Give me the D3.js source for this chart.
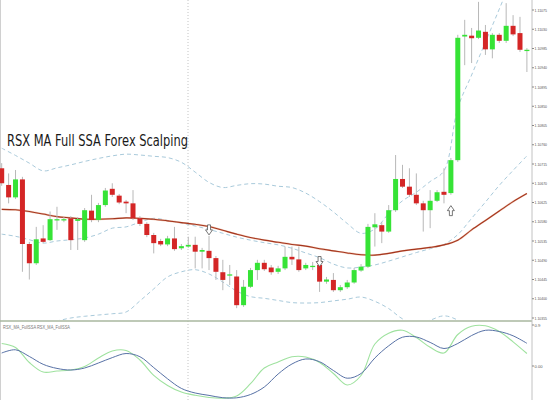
<!DOCTYPE html>
<html><head><meta charset="utf-8">
<script src="https://cdn.jsdelivr.net/npm/d3@7"></script>
<style>html,body{margin:0;padding:0;background:#fff;overflow:hidden}</style>
</head><body><svg id="c" width="550" height="400"></svg>
<script>
const titleText = "RSX MA Full SSA Forex Scalping";
const indicatorName = "RSX_MA_FullSSA RSX_MA_FullSSA";

const open = [1.10705,1.10666,1.10637,1.10679,1.10528,1.10483,1.10541,1.10537,1.10583,1.10583,1.10588,1.10582,1.10537,1.10606,1.10584,1.10619,1.10657,1.10641,1.10627,1.10623,1.10588,1.10575,1.10549,1.10535,1.10527,1.10541,1.10518,1.10522,1.10526,1.10510,1.10512,1.10495,1.10462,1.10454,1.10452,1.10385,1.10428,1.10467,1.10484,1.10473,1.10463,1.10471,1.10498,1.10492,1.10471,1.10474,1.10479,1.10440,1.10444,1.10420,1.10427,1.10438,1.10466,1.10475,1.10567,1.10572,1.10557,1.10607,1.10680,1.10662,1.10643,1.10623,1.10607,1.10629,1.10650,1.10647,1.10724,1.11013,1.11015,1.11010,1.11024,1.10983,1.11017,1.11003,1.11038,1.11021,1.10979];
const high = [1.10717,1.10693,1.10701,1.10685,1.10533,1.10568,1.10572,1.10604,1.10615,1.10591,1.10593,1.10591,1.10612,1.10643,1.10624,1.10659,1.10670,1.10645,1.10631,1.10654,1.10593,1.10579,1.10554,1.10540,1.10547,1.10568,1.10528,1.10545,1.10545,1.10519,1.10547,1.10500,1.10491,1.10479,1.10467,1.10444,1.10472,1.10491,1.10491,1.10479,1.10477,1.10522,1.10522,1.10522,1.10484,1.10486,1.10484,1.10451,1.10460,1.10432,1.10444,1.10472,1.10481,1.10575,1.10600,1.10579,1.10619,1.10736,1.10713,1.10705,1.10693,1.10629,1.10654,1.10654,1.10705,1.10729,1.11017,1.11052,1.11033,1.11094,1.11040,1.11021,1.11021,1.11091,1.11063,1.11059,1.10986];
const low = [1.10664,1.10623,1.10633,1.10463,1.10445,1.10479,1.10530,1.10535,1.10561,1.10579,1.10514,1.10514,1.10533,1.10579,1.10579,1.10615,1.10638,1.10621,1.10600,1.10584,1.10570,1.10544,1.10506,1.10523,1.10523,1.10512,1.10514,1.10519,1.10471,1.10471,1.10467,1.10444,1.10420,1.10432,1.10378,1.10381,1.10425,1.10444,1.10465,1.10456,1.10458,1.10467,1.10479,1.10463,1.10467,1.10467,1.10416,1.10435,1.10416,1.10416,1.10423,1.10435,1.10463,1.10472,1.10522,1.10530,1.10554,1.10603,1.10659,1.10638,1.10619,1.10557,1.10565,1.10626,1.10623,1.10643,1.10720,1.10946,1.10951,1.11007,1.10970,1.10962,1.10998,1.10998,1.11014,1.10977,1.10930];
const close = [1.10670,1.10637,1.10679,1.10528,1.10483,1.10539,1.10533,1.10586,1.10586,1.10586,1.10537,1.10586,1.10607,1.10584,1.10619,1.10653,1.10643,1.10625,1.10623,1.10588,1.10575,1.10549,1.10530,1.10527,1.10541,1.10516,1.10523,1.10526,1.10510,1.10514,1.10495,1.10463,1.10444,1.10457,1.10385,1.10428,1.10467,1.10484,1.10469,1.10462,1.10471,1.10498,1.10492,1.10467,1.10479,1.10477,1.10440,1.10445,1.10420,1.10427,1.10438,1.10467,1.10475,1.10568,1.10574,1.10557,1.10607,1.10680,1.10662,1.10643,1.10623,1.10607,1.10629,1.10649,1.10643,1.10724,1.11010,1.11017,1.11009,1.11027,1.10983,1.11017,1.11003,1.11038,1.11018,1.10982,1.10982];

// line series sampled every second bar (bar index 0,2,...,76)
const lineIdx = d3.range(0, 77, 2);
const maLine = [1.10609,1.10608,1.10604,1.10598,1.10592,1.10589,1.10586,1.10586,1.10587,1.10589,1.10588,1.10586,1.10582,1.10578,1.10574,1.10569,1.10560,1.10551,1.10543,1.10537,1.10532,1.10527,1.10523,1.10517,1.10512,1.10507,1.10503,1.10502,1.10506,1.10512,1.10516,1.10520,1.10526,1.10537,1.10561,1.10583,1.10605,1.10627,1.10646];
const upperBand = [1.10752,1.10735,1.10717,1.10699,1.10706,1.10713,1.10721,1.10728,1.10734,1.10738,1.10736,1.10733,1.10730,1.10719,1.10696,1.10672,1.10660,1.10665,1.10669,1.10668,1.10663,1.10660,1.10647,1.10627,1.10603,1.10576,1.10553,1.10563,1.10599,1.10629,1.10649,1.10674,1.10699,1.10846,1.10923,1.11000,1.11077,1.11155,1.11232];
const innerBand = [1.10551,1.10546,1.10538,1.10530,1.10535,1.10538,1.10542,1.10551,1.10565,1.10568,1.10579,1.10588,1.10583,1.10577,1.10570,1.10562,1.10553,1.10544,1.10537,1.10531,1.10526,1.10518,1.10507,1.10496,1.10481,1.10472,1.10474,1.10479,1.10488,1.10498,1.10508,1.10517,1.10527,1.10550,1.10588,1.10626,1.10665,1.10700,1.10734];
const lowerBand = [1.10316,1.10325,1.10333,1.10340,1.10348,1.10355,1.10359,1.10362,1.10365,1.10369,1.10395,1.10423,1.10451,1.10463,1.10468,1.10458,1.10439,1.10418,1.10405,1.10401,1.10396,1.10391,1.10390,1.10391,1.10395,1.10399,1.10404,1.10394,1.10377,1.10353,1.10341,1.10350,1.10360,1.10350,1.10327,1.10304,1.10280,1.10257,1.10233];
const rsxFast = [0.494,0.406,0.077,-0.132,-0.110,-0.088,-0.011,0.176,0.329,0.340,0.132,-0.204,-0.426,-0.571,-0.643,-0.691,-0.707,-0.658,-0.388,-0.044,0.088,0.204,0.198,0.077,-0.165,-0.417,-0.209,0.483,0.720,0.784,0.626,0.410,0.285,0.691,0.871,0.882,0.757,0.531,0.274];
const rsxSlow = [0.285,0.356,0.209,0.037,-0.053,-0.088,-0.044,0.066,0.184,0.274,0.204,-0.035,-0.281,-0.492,-0.593,-0.645,-0.696,-0.698,-0.626,-0.461,-0.176,0.044,0.154,0.094,-0.099,-0.268,-0.165,0.176,0.443,0.632,0.637,0.518,0.384,0.494,0.669,0.784,0.757,0.663,0.498];

const arrowIdx = [30, 46, 65];
const arrowPrice = [1.10561, 1.10487, 1.10606];
const arrowDir = ["down", "down", "up"];

const priceTicks = ["1.11075","1.11030","1.10985","1.10940","1.10895","1.10850","1.10805","1.10760","1.10715","1.10670","1.10625","1.10580","1.10535","1.10490","1.10445","1.10400","1.10355"];
const rsxTicks = ["0.9","0.00"];
const rsxTickVals = [0.9, 0.0];

const svg = d3.select("#c");
const W = 550, H = 400, axisX = 532, sepY = 321;
const x = d3.scaleLinear().domain([0, 76]).range([1.7, 526.9]);
const y = d3.scaleLinear().domain([1.10355, 1.11075]).range([318, 10]);
const yr = d3.scaleLinear().domain([0, 0.9]).range([366, 325]);

svg.append("rect").attr("width", W).attr("height", H).attr("fill", "#fff");
const defs = svg.append("defs");
defs.append("clipPath").attr("id", "mainClip").append("rect").attr("x", 0).attr("y", 0).attr("width", axisX).attr("height", sepY - 1);
defs.append("clipPath").attr("id", "subClip").append("rect").attr("x", 0).attr("y", sepY + 1).attr("width", axisX).attr("height", H - sepY);

// left border and vertical dotted separator
svg.append("line").attr("x1", 0.5).attr("x2", 0.5).attr("y1", 0).attr("y2", H).attr("stroke", "#d0d0d0");
svg.append("line").attr("x1", 188).attr("x2", 188).attr("y1", 0).attr("y2", H)
  .attr("stroke", "#c4c4c4").attr("stroke-dasharray", "1,2");

const main = svg.append("g").attr("clip-path", "url(#mainClip)");

const bandLine = d3.line().x((d, i) => x(lineIdx[i])).y(d => y(d)).curve(d3.curveCatmullRom.alpha(0.5));
[upperBand, innerBand, lowerBand].forEach(s => {
  main.append("path").attr("d", bandLine(s)).attr("fill", "none")
    .attr("stroke", "#a9cadb").attr("stroke-width", 1).attr("stroke-dasharray", "4,3");
});
main.append("path").attr("d", bandLine(maLine)).attr("fill", "none")
  .attr("stroke", "#e39a78").attr("stroke-width", 1.9).attr("opacity", 0.55);
main.append("path").attr("d", bandLine(maLine)).attr("fill", "none")
  .attr("stroke", "#a5361f").attr("stroke-width", 1.1);

const bars = d3.range(open.length).map(i => ({i, o: open[i], h: high[i], l: low[i], c: close[i]}));
main.selectAll("line.wick").data(bars).join("line").attr("class", "wick")
  .attr("x1", d => x(d.i)).attr("x2", d => x(d.i))
  .attr("y1", d => y(d.h)).attr("y2", d => y(d.l))
  .attr("stroke", "#b8b8b8").attr("stroke-width", 1);
main.selectAll("rect.body").data(bars).join("rect").attr("class", "body")
  .attr("x", d => x(d.i) - 2.5).attr("width", 5)
  .attr("y", d => y(Math.max(d.o, d.c)))
  .attr("height", d => Math.max(1.2, Math.abs(y(d.o) - y(d.c))))
  .attr("fill", d => d.c >= d.o ? "#36e336" : "#d42626");

// signal arrows
arrowIdx.forEach((ai, k) => {
  const cx = x(ai), cy = y(arrowPrice[k]);
  const s = arrowDir[k] === "down" ? 1 : -1;
  const t = cy - 5 * s, tip = cy + 5 * s;
  const p = d3.path();
  p.moveTo(cx - 1.5, t); p.lineTo(cx + 1.5, t); p.lineTo(cx + 1.5, cy);
  p.lineTo(cx + 3.5, cy); p.lineTo(cx, tip); p.lineTo(cx - 3.5, cy);
  p.lineTo(cx - 1.5, cy); p.closePath();
  main.append("path").attr("d", p.toString()).attr("fill", "#fff")
    .attr("stroke", "#555").attr("stroke-width", 0.8);
});

// title
svg.append("text").attr("x", 7).attr("y", 146).text(titleText)
  .attr("font-family", "'Comic Sans MS','DejaVu Sans',sans-serif").attr("font-size", 15)
  .attr("fill", "#1a1a1a").attr("textLength", 181).attr("lengthAdjust", "spacingAndGlyphs");

// separator and right axis
svg.append("line").attr("x1", 0).attr("x2", axisX).attr("y1", sepY).attr("y2", sepY)
  .attr("stroke", "#a9b79f").attr("stroke-width", 1.6);
svg.append("line").attr("x1", axisX).attr("x2", axisX).attr("y1", 0).attr("y2", H)
  .attr("stroke", "#c2c2c2").attr("stroke-width", 1);

const tickG = svg.append("g");
function tickLabel(t, yy, len) {
  tickG.append("line").attr("x1", axisX).attr("x2", axisX + 2).attr("y1", yy).attr("y2", yy).attr("stroke", "#888");
  tickG.append("text").attr("x", axisX + 2.5).attr("y", yy + 1.5).text(t)
    .attr("font-family", "'Liberation Sans',Arial,sans-serif").attr("font-size", 4.0).attr("fill", "#555")
    .attr("textLength", len).attr("lengthAdjust", "spacingAndGlyphs");
}
priceTicks.forEach(t => tickLabel(t, y(+t), 12.5));
rsxTicks.forEach((t, k) => tickLabel(t, yr(rsxTickVals[k]), t.length * 2.0));

// indicator panel
const sub = svg.append("g").attr("clip-path", "url(#subClip)");
const rsxLine = d3.line().x((d, i) => x(lineIdx[i])).y(d => yr(d)).curve(d3.curveCatmullRom.alpha(0.5));
sub.append("path").attr("d", rsxLine(rsxFast)).attr("fill", "none").attr("stroke", "#9fe29f").attr("stroke-width", 1.1);
sub.append("path").attr("d", rsxLine(rsxSlow)).attr("fill", "none").attr("stroke", "#5872a6").attr("stroke-width", 1);
svg.append("text").attr("x", 3).attr("y", 329).text(indicatorName)
  .attr("font-family", "'Liberation Sans',Arial,sans-serif").attr("font-size", 4.5).attr("fill", "#777")
  .attr("textLength", 67).attr("lengthAdjust", "spacingAndGlyphs");
</script></body></html>
